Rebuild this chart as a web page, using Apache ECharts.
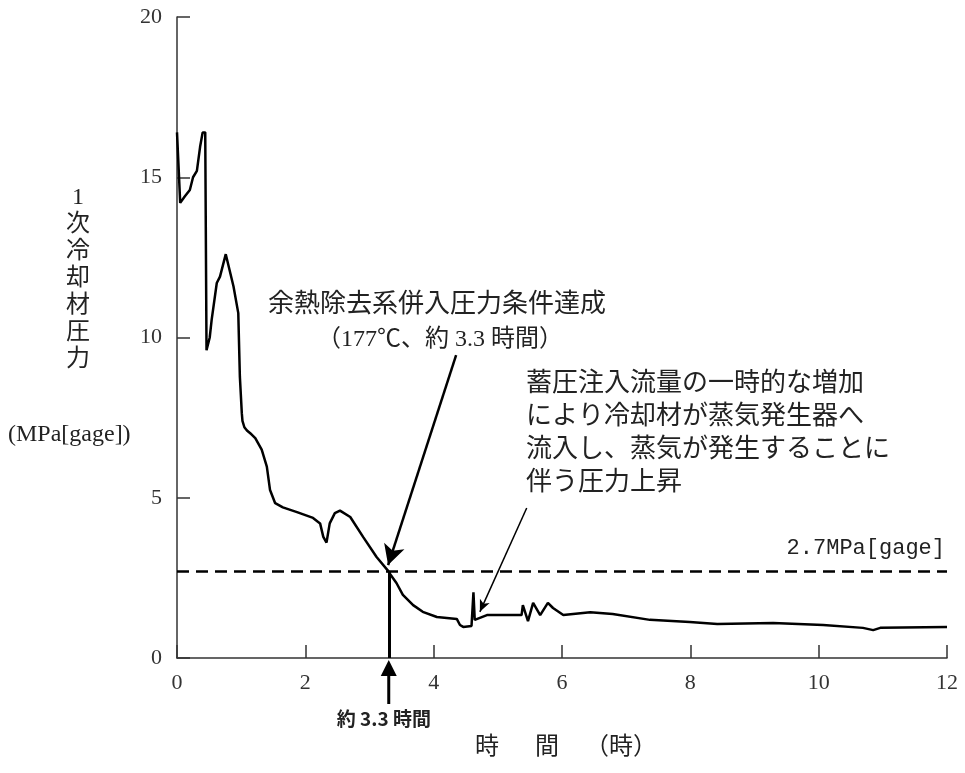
<!DOCTYPE html>
<html>
<head>
<meta charset="utf-8">
<script src="https://cdn.jsdelivr.net/npm/echarts@6/dist/echarts.min.js"></script>
<style>
    html, body { margin: 0; padding: 0; background: #fff; }
    #chart { width: 965px; height: 773px; }
</style>
</head>
<body>
<div id="chart"></div>
<script>
    // 時間 (h) と 1次冷却材圧力 (MPa[gage])
    let hours = [0, 0.05, 0.12, 0.2, 0.25, 0.31, 0.36, 0.40, 0.44, 0.46, 0.51, 0.54, 0.62, 0.67, 0.76, 0.88, 0.955,
        0.98, 1.01, 1.02, 1.05, 1.09, 1.16, 1.22, 1.32, 1.40, 1.45, 1.53, 1.65, 1.87, 2.12, 2.23, 2.28, 2.33, 2.38,
        2.46, 2.54, 2.70, 2.90, 3.11, 3.29, 3.32, 3.42, 3.52, 3.68, 3.83, 4.05, 4.36, 4.41, 4.46, 4.59, 4.61,
        4.62, 4.64, 4.83, 5.37, 5.39, 5.47, 5.55, 5.66, 5.78, 5.86, 6.02, 6.44, 6.79, 7.37, 7.99, 8.42, 9.29,
        10.07, 10.69, 10.85, 10.96, 12.0]
    let pressure = [16.4, 14.2, 14.4, 14.6, 15.0, 15.2, 15.95, 16.4, 16.4, 9.6, 10.0, 10.55, 11.7, 11.9, 12.6, 11.6, 10.76,
        8.77, 7.64, 7.4, 7.2, 7.1, 6.98, 6.86, 6.5, 5.97, 5.24, 4.83, 4.7, 4.55, 4.37, 4.2, 3.78, 3.6, 4.2,
        4.52, 4.6, 4.4, 3.78, 3.15, 2.72, 2.62, 2.34, 1.97, 1.65, 1.44, 1.28, 1.22, 1.03, 0.97, 1.0, 1.0,
        2.05, 1.19, 1.34, 1.34, 1.65, 1.15, 1.72, 1.34, 1.72, 1.56, 1.34, 1.43, 1.37, 1.19, 1.12, 1.06, 1.09,
        1.03, 0.94, 0.87, 0.94, 0.97]
    let limitPressure = 2.7      // 余熱除去系併入圧力
    let reachHour = 3.3          // 条件達成時刻
    let noteA = [4.35, 9.45]     // 矢印の始点 (余熱除去系...)
    let noteB = [5.45, 4.68]     // 矢印の始点 (蓄圧注入...)
    let noteBEnd = [4.72, 1.44]

    let seriesData = []
    for (let i = 0; i < hours.length; i++) {
        seriesData.push([hours[i], pressure[i]])
    }

    let chart = echarts.init(document.getElementById('chart'))
    const serif = "'Liberation Serif', 'Noto Sans CJK JP'"
    const jp = "'Liberation Serif', 'Noto Sans CJK JP'"

    function txt(text, x, y, size, opts) {
        opts = opts || {}
        return {
            type: 'text', x: x, y: y, silent: true,
            style: {
                text: text,
                fontSize: size,
                fontFamily: opts.family || jp,
                fontWeight: opts.weight || 'normal',
                fill: '#222',
                textAlign: opts.align || 'left',
                textVerticalAlign: 'middle',
                lineHeight: opts.lineHeight
            }
        }
    }

    const option = {
        animation: false,
        grid: { left: 177, right: 18, top: 17, bottom: 115 },
        xAxis: {
            type: 'value', min: 0, max: 12, interval: 2,
            axisLine: { lineStyle: { color: '#333', width: 1.5 } },
            axisTick: { inside: true, length: 13, lineStyle: { color: '#333', width: 1.5 } },
            axisLabel: { fontSize: 22, fontFamily: serif, color: '#333', margin: 14 },
            splitLine: { show: false }
        },
        yAxis: {
            type: 'value', min: 0, max: 20, interval: 5,
            axisLine: { show: true, lineStyle: { color: '#333', width: 1.5 } },
            axisTick: { show: true, inside: true, length: 13, lineStyle: { color: '#333', width: 1.5 } },
            axisLabel: { fontSize: 22, fontFamily: serif, color: '#333', margin: 15 },
            splitLine: { show: false }
        },
        series: [{
            type: 'line',
            data: seriesData,
            showSymbol: false,
            lineStyle: { color: '#000', width: 2.5 },
            markLine: {
                silent: true,
                animation: false,
                label: { show: false },
                symbol: ['none', 'none'],
                data: [
                    { yAxis: limitPressure, lineStyle: { color: '#000', width: 2.5, type: [12, 7] } },
                    [
                        { coord: [reachHour, limitPressure], lineStyle: { color: '#000', width: 3, type: 'solid' } },
                        { coord: [reachHour, 0] }
                    ],
                    [
                        { coord: noteA, symbol: 'none', lineStyle: { color: '#000', width: 2.5, type: 'solid' } },
                        { coord: [reachHour - 0.01, limitPressure + 0.2], symbol: 'arrow', symbolSize: [16, 20] }
                    ],
                    [
                        { coord: noteB, symbol: 'none', lineStyle: { color: '#000', width: 1.5, type: 'solid' } },
                        { coord: noteBEnd, symbol: 'arrow', symbolSize: [8, 12] }
                    ]
                ]
            }
        }]
    }
    chart.setOption(option)

    // 横軸の下の「約3.3時間」矢印
    let p = chart.convertToPixel({ gridIndex: 0 }, [reachHour, 0])
    chart.setOption({
        graphic: [
            { type: 'line', silent: true, shape: { x1: p[0], y1: p[1] + 46, x2: p[0], y2: p[1] + 10 },
              style: { stroke: '#000', lineWidth: 3 } },
            { type: 'polygon', silent: true,
              shape: { points: [[p[0], p[1] + 2], [p[0] - 8, p[1] + 18], [p[0] + 8, p[1] + 18]] },
              style: { fill: '#000' } },
            txt('約 3.3 時間', p[0] - 52, p[1] + 61, 19, { weight: 'bold', family: "'Noto Sans CJK JP'" }),
            txt('余熱除去系併入圧力条件達成', 268, 305, 26),
            txt('（177℃、約 3.3 時間）', 440, 340, 24, { align: 'center' }),
            txt('蓄圧注入流量の一時的な増加\nにより冷却材が蒸気発生器へ\n流入し、蒸気が発生することに\n伴う圧力上昇',
                526, 434, 26, { lineHeight: 33 }),
            txt('2.7MPa[gage]', 945, 548, 22, { align: 'right', family: "'Liberation Mono'" }),
            txt('1\n次\n冷\n却\n材\n圧\n力', 78, 279, 24, { align: 'center', lineHeight: 27 }),
            txt('(MPa[gage])', 8, 435, 24, { family: "'Liberation Serif'" }),
            txt('時', 475, 748, 24),
            txt('間', 535, 748, 24),
            txt('（時）', 585, 748, 24)
        ]
    })
</script>
</body>
</html>
